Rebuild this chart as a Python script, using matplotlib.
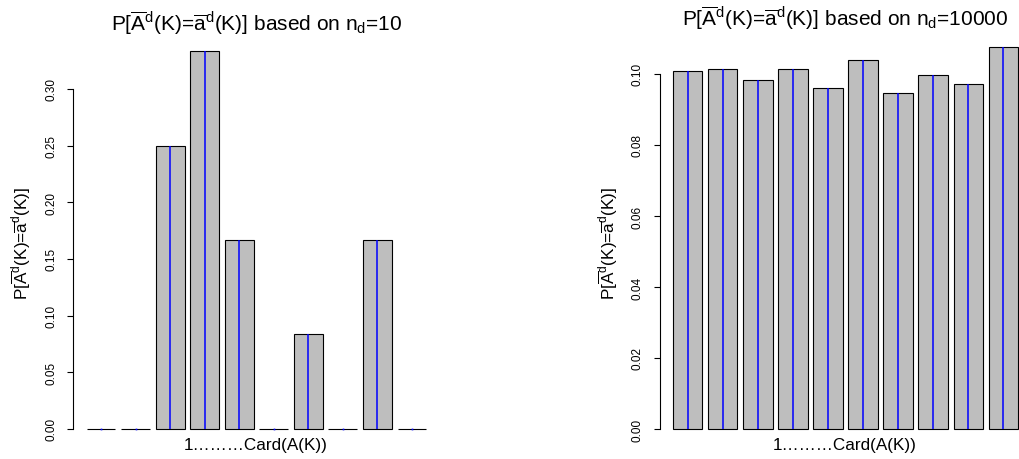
import matplotlib
matplotlib.use("Agg")
import matplotlib.pyplot as plt
import numpy as np

plt.rcParams["font.family"] = ["Liberation Sans", "DejaVu Sans"]
plt.rcParams["mathtext.fontset"] = "custom"
plt.rcParams["mathtext.rm"] = "Liberation Sans"
plt.rcParams["mathtext.it"] = "Liberation Sans:italic"

# estimated probability of each element of A(K)
p_small = [0, 0, 3/12, 4/12, 2/12, 0, 1/12, 0, 2/12, 0]
p_large = [0.1008, 0.1013, 0.0984, 0.1013, 0.0961, 0.1039, 0.0945, 0.0998, 0.0973, 0.1077]
n_small = 10
n_large = 10000
ticks_small = [0.00, 0.05, 0.10, 0.15, 0.20, 0.25, 0.30]
ticks_large = [0.00, 0.02, 0.04, 0.06, 0.08, 0.10]

ylab = r"P[$\overline{\mathrm{A}}^\mathrm{d}$(K)=$\overline{\mathrm{a}}^\mathrm{d}$(K)]"
xlab = "1\u2026\u2026\u2026Card(A(K))"


def barplot(ax, probs, yticks, n):
    probs = np.asarray(probs)
    k = len(probs)
    # barplot-like layout: width 1, space 0.2
    centers = 0.7 + 1.2 * np.arange(k)
    ax.bar(centers, probs, width=1.0, color="#BEBEBE", edgecolor="black", linewidth=0.8)
    ax.vlines(centers, 0, probs, color="blue", linewidth=1.1)
    zero = probs == 0
    ax.plot(centers[zero], probs[zero], "s", color="blue", ms=1.2, mew=0)
    lo, hi = 0.2, 1.2 * k
    ax.set_xlim(lo - 0.04 * (hi - lo), hi + 0.04 * (hi - lo))
    ax.set_ylim(-0.04 * probs.max(), 1.04 * probs.max())
    for s in ["top", "right", "bottom"]:
        ax.spines[s].set_visible(False)
    ax.spines["left"].set_bounds(yticks[0], yticks[-1])
    ax.spines["left"].set_linewidth(0.8)
    ax.set_xticks([])
    ax.set_yticks(yticks)
    ax.set_yticklabels(["%.2f" % t for t in yticks], rotation=90, va="center")
    ax.tick_params(axis="y", length=4.5, width=0.8, pad=7, labelsize=8.5)
    ax.set_title(ylab + r" based on n$_\mathrm{d}$=" + str(n), fontsize=15, pad=4)


fig = plt.figure(figsize=(10.19, 4.6), dpi=100)
ax1 = fig.add_axes([73 / 1019, 15 / 460, 367 / 1019, 408 / 460])
ax2 = fig.add_axes([659.5 / 1019, 14.7 / 460, 372 / 1019, 413 / 460])

barplot(ax1, p_small, ticks_small, n_small)
barplot(ax2, p_large, ticks_large, n_large)

fig.text(21 / 1019, 1 - 244 / 460, ylab, rotation=90, ha="center", va="center", fontsize=12.3)
fig.text(608 / 1019, 1 - 244 / 460, ylab, rotation=90, ha="center", va="center", fontsize=12.3)
fig.text(256 / 1019, 1 - 446 / 460, xlab, ha="center", va="center", fontsize=12.3)
fig.text(845 / 1019, 1 - 446 / 460, xlab, ha="center", va="center", fontsize=12.3)

fig.savefig("out.png", dpi=100)
